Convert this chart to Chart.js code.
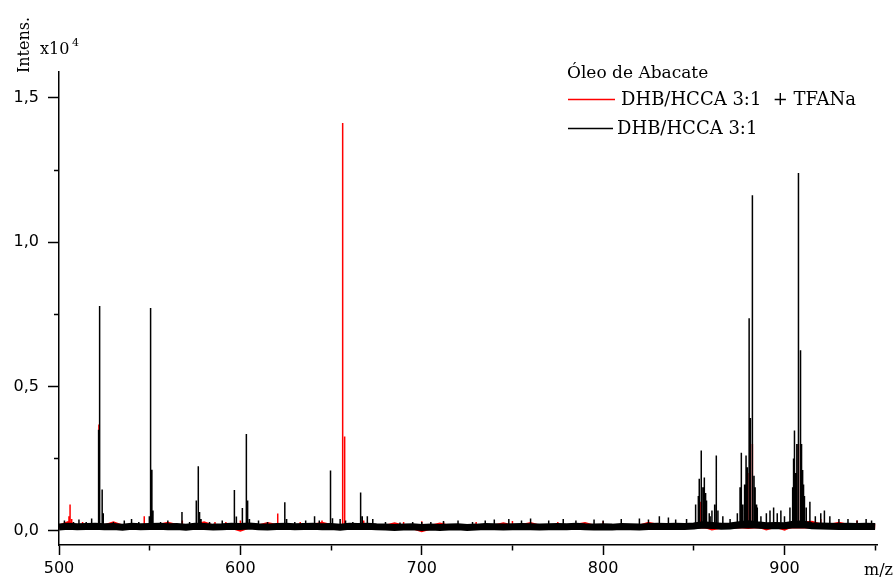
<!DOCTYPE html>
<html>
<head>
<meta charset="utf-8">
<style>
  html, body { margin: 0; padding: 0; background: #fff; }
  #wrap { width: 893px; height: 581px; }
</style>
<script src="https://cdn.jsdelivr.net/npm/chart.js@4.4.1/dist/chart.umd.min.js"></script>
</head>
<body>
<div id="wrap"><canvas id="spectrum"></canvas></div>
<script>
// tick values and labels
var xTicks = [500, 550, 600, 650, 700, 750, 800, 850, 900, 950];
var xTickLabels = ['500', '', '600', '', '700', '', '800', '', '900', ''];
var yTicks = [0, 2500, 5000, 7500, 10000, 12500, 15000];
var yTickLabels = ['0,0', '', '0,5', '', '1,0', '', '1,5'];

// baseline noise (every 5 m/z)
var noiseMz = [500, 505, 510, 515, 520, 525, 530, 535, 540, 545, 550, 555, 560, 565, 570, 575, 580, 585, 590, 595,
  600, 605, 610, 615, 620, 625, 630, 635, 640, 645, 650, 655, 660, 665, 670, 675, 680, 685, 690, 695,
  700, 705, 710, 715, 720, 725, 730, 735, 740, 745, 750, 755, 760, 765, 770, 775, 780, 785, 790, 795,
  800, 805, 810, 815, 820, 825, 830, 835, 840, 845, 850, 855, 860, 865, 870, 875, 880, 885, 890, 895,
  900, 905, 910, 915, 920, 925, 930, 935, 940, 945, 950];
var blackNoise = [120, 150, 130, 140, 150, 130, 140, 120, 150, 130, 140, 150, 130, 140, 120, 150, 140, 120, 130, 150,
  140, 160, 130, 120, 140, 150, 130, 140, 150, 130, 140, 120, 150, 140, 150, 130, 120, 110, 120, 130,
  110, 120, 110, 120, 130, 110, 120, 140, 130, 120, 130, 140, 130, 120, 130, 140, 130, 150, 130, 120,
  130, 120, 140, 130, 120, 140, 150, 140, 150, 140, 160, 200, 180, 150, 160, 200, 240, 200, 170, 180,
  170, 220, 230, 170, 160, 150, 140, 150, 140, 150, 140];
var redNoise = [120, 240, 130, 140, 150, 130, 230, 120, 150, 130, 140, 150, 220, 140, 120, 150, 230, 120, 130, 150,
  50, 160, 130, 210, 140, 150, 130, 140, 150, 220, 140, 120, 150, 140, 150, 130, 120, 200, 120, 130,
  30, 120, 190, 120, 130, 110, 120, 140, 130, 200, 130, 140, 210, 120, 130, 140, 130, 150, 210, 120,
  130, 120, 140, 130, 120, 220, 150, 140, 150, 140, 160, 200, 90, 150, 160, 200, 140, 200, 90, 180,
  90, 220, 230, 250, 160, 150, 220, 150, 140, 150, 140];

// peaks: DHB/HCCA 3:1 (black)
var blackPeakMz = [503, 508, 511, 515, 518, 521.6, 522.0, 522.4, 523.8, 524.4, 530, 536, 540, 544, 549.8, 550.5, 551.2, 551.8,
  556, 560, 567.8, 572, 575.7, 576.8, 577.5, 578.3, 583, 590, 596.7, 597.8, 601.1, 603.3, 604, 605, 610, 615,
  624.5, 625.5, 630, 636, 640.9, 643.5, 649.7, 650.8, 655, 658, 662, 666.3, 667.2, 670, 673, 680, 688, 695,
  700, 705, 712, 720, 728, 735, 740, 748, 755, 760, 770, 778, 785, 795, 800, 810, 820, 825, 831, 836, 840, 846,
  851, 852.5, 853, 854.1, 855, 855.8, 856.5, 857, 858.5, 859, 860, 861.5, 862.4, 863.3, 866, 870, 874,
  875.5, 876.2, 877, 878, 878.8, 879.5, 880.5, 881, 881.3, 882.3, 883.2, 883.8, 884.6, 885, 887, 890, 892, 894, 896, 898, 900, 903,
  904.5, 905, 905.5, 906.3, 906.8, 907.7, 908.6, 909, 909.4, 910, 910.5, 911, 912, 914, 917,
  920, 922, 925, 930, 935, 940, 945, 948];
var blackPeakInt = [350, 300, 380, 300, 420, 1100, 3500, 7790, 1420, 600, 300, 350, 400, 300, 500, 7720, 2110, 700,
  300, 350, 640, 300, 1040, 2230, 640, 400, 300, 350, 1410, 490, 780, 3345, 1040, 400, 350, 300,
  985, 400, 300, 350, 500, 350, 2080, 430, 400, 350, 300, 1320, 500, 500, 400, 300, 280, 300,
  300, 300, 330, 350, 300, 350, 380, 400, 350, 420, 350, 400, 350, 380, 350, 400, 420, 380, 500, 450, 380, 400,
  900, 1200, 1800, 2780, 1500, 1840, 1300, 1040, 600, 500, 700, 900, 2600, 700, 500, 400, 600,
  1500, 2700, 900, 1600, 2600, 2200, 7360, 3000, 3900, 11630, 1900, 1500, 900, 800, 500, 600, 700, 800, 600, 700, 500, 800,
  1500, 2500, 3470, 2000, 3000, 12400, 6250, 3300, 3000, 2100, 1600, 1200, 800, 1000, 500,
  600, 700, 500, 400, 400, 350, 400, 350];

// peaks: DHB/HCCA 3:1 + TFANa (red)
var redPeakMz = [505.5, 506.1, 507, 513, 522.0, 547, 560, 568, 586, 592, 600, 620.6, 633, 645, 656.4, 657.5,
  668, 690, 700, 712, 730, 750, 775, 800, 853.5, 880.5, 882.3, 907.7, 920, 940];
var redPeakInt = [500, 900, 400, 300, 3680, 500, 300, 350, 300, 300, 350, 590, 300, 350, 14130, 3260,
  350, 300, 320, 300, 300, 330, 300, 320, 1000, 2000, 3000, 3000, 400, 350];

function noisePoints(mz, vals) {
  return mz.map(function (m, i) { return { x: m, y: vals[i] }; });
}
function stickPoints(mz, vals) {
  var pts = [];
  mz.forEach(function (m, i) {
    pts.push({ x: m, y: 100 }, { x: m, y: vals[i] }, { x: m, y: 100 });
  });
  return pts;
}

Chart.defaults.font.family = '"DejaVu Sans", sans-serif';
Chart.defaults.color = '#000';

var legendPlugin = {
  id: 'labelsAndLegend',
  afterDraw: function (chart) {
    var c = chart.ctx;
    c.save();
    c.fillStyle = '#000';
    c.textBaseline = 'alphabetic';
    c.textAlign = 'left';
    c.font = '17px "DejaVu Serif", serif';
    c.fillText('Óleo de Abacate', 567, 78);
    c.font = '18px "DejaVu Serif", serif';
    c.textBaseline = 'middle';
    c.fillText('DHB/HCCA 3:1  + TFANa', 621, 100);
    c.fillText('DHB/HCCA 3:1', 617, 129);
    c.lineWidth = 1.6;
    c.strokeStyle = '#ff0000';
    c.beginPath(); c.moveTo(568, 99.5); c.lineTo(615, 99.5); c.stroke();
    c.strokeStyle = '#000';
    c.beginPath(); c.moveTo(568, 128.5); c.lineTo(613, 128.5); c.stroke();

    // axis titles
    c.font = '16px "DejaVu Serif", serif';
    c.textBaseline = 'middle';
    c.fillText('m/z', 864, 571);
    c.save();
    c.translate(25, 45);
    c.rotate(-Math.PI / 2);
    c.textAlign = 'center';
    c.fillText('Intens.', 0, 0);
    c.restore();
    c.textBaseline = 'alphabetic';
    c.fillText('x10', 40, 54);
    c.font = '11px "DejaVu Serif", serif';
    c.fillText('4', 72, 46);
    c.restore();
  }
};

new Chart(document.getElementById('spectrum'), {
  type: 'line',
  data: {
    datasets: [
      { label: 'DHB/HCCA 3:1', data: stickPoints(blackPeakMz, blackPeakInt), borderColor: '#000', borderWidth: 1.5 },
      { label: 'DHB/HCCA 3:1 noise', data: noisePoints(noiseMz, blackNoise), borderColor: '#000', borderWidth: 7 },
      { label: 'DHB/HCCA 3:1 + TFANa', data: stickPoints(redPeakMz, redPeakInt), borderColor: '#ff0000', borderWidth: 1.5 },
      { label: 'DHB/HCCA 3:1 + TFANa noise', data: noisePoints(noiseMz, redNoise), borderColor: '#ff0000', borderWidth: 5 }
    ]
  },
  options: {
    responsive: true,
    maintainAspectRatio: false,
    animation: false,
    events: [],
    layout: { padding: { left: 0, right: 16, top: 72, bottom: 0 } },
    elements: { point: { radius: 0 }, line: { tension: 0, borderJoinStyle: 'miter' } },
    plugins: { legend: { display: false }, tooltip: { enabled: false } },
    scales: {
      x: {
        type: 'linear',
        min: 500,
        max: 951,
        afterFit: function (s) { s.height = 36; },
        afterBuildTicks: function (s) { s.ticks = xTicks.map(function (v) { return { value: v }; }); },
        border: { display: true, color: '#000', width: 1.5 },
        grid: {
          drawOnChartArea: false,
          tickLength: 10,
          tickColor: '#000',
          tickWidth: 1.5,
          tickBorderDash: function (ctx) { return xTickLabels[ctx.index] ? [] : [5, 50]; }
        },
        ticks: {
          autoSkip: false,
          maxRotation: 0,
          padding: 4,
          font: { size: 16 },
          callback: function (v, i) { return xTickLabels[i]; }
        }
      },
      y: {
        type: 'linear',
        min: -500,
        max: 15900,
        afterFit: function (s) { s.width = 59; },
        afterBuildTicks: function (s) { s.ticks = yTicks.map(function (v) { return { value: v }; }); },
        border: { display: true, color: '#000', width: 1.5 },
        grid: {
          drawOnChartArea: false,
          tickLength: 11,
          tickColor: '#000',
          tickWidth: 1.5,
          tickBorderDash: function (ctx) { return yTickLabels[ctx.index] ? [] : [0, 6, 7, 50]; }
        },
        ticks: {
          autoSkip: false,
          padding: 9,
          font: { size: 16 },
          callback: function (v, i) { return yTickLabels[i]; }
        }
      }
    }
  },
  plugins: [legendPlugin]
});
</script>
</body>
</html>
